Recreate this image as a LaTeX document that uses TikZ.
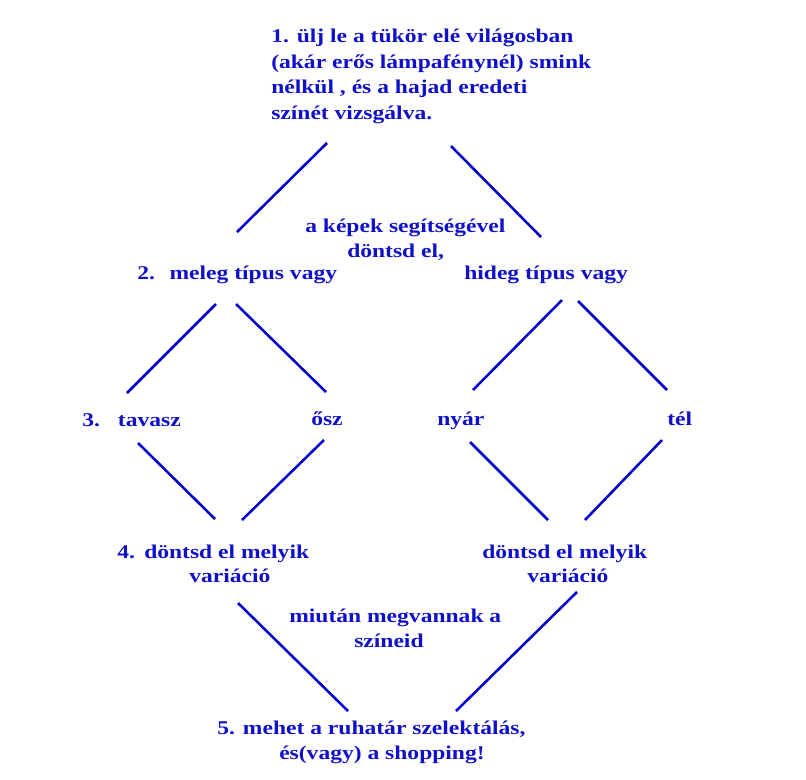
\documentclass[tikz,border=0pt]{standalone}
\usepackage{fontspec}
\setmainfont{Liberation Serif}[FakeStretch=1.21]
\definecolor{txtblue}{RGB}{16,16,200}
\definecolor{lnblue}{RGB}{0,0,200}
\begin{document}
\begin{tikzpicture}[x=0.75pt,y=-0.75pt,
  lbl/.style={anchor=base west,inner sep=0pt,text=txtblue,font=\fontsize{14.6pt}{19.3pt}\selectfont\bfseries},
  seg/.style={draw=lnblue,line width=1.9pt}]
\useasboundingbox (0,0) rectangle (806,779);
% block 1
\node[lbl] (t1a) at (271,42) {1. ülj le a tükör elé világosban};
\node[lbl] (t1b) at (271,68) {(akár erős lámpafénynél) smink};
\node[lbl] (t1c) at (271,93) {nélkül , és a hajad eredeti};
\node[lbl] (t1d) at (271,119) {színét vizsgálva.};
% middle note
\node[lbl] (n1a) at (305,232) {a képek segítségével};
\node[lbl] (n1b) at (347,257) {döntsd el,};
% level 2
\node[lbl] (t2a) at (137,279) {2.\hspace{11pt}meleg típus vagy};
\node[lbl] (t2b) at (464,279) {hideg típus vagy};
% level 3
\node[lbl] (t3a) at (82,426) {3.\hspace{13.5pt}tavasz};
\node[lbl] (t3b) at (311,425) {ősz};
\node[lbl] (t3c) at (437,425) {nyár};
\node[lbl] (t3d) at (667,425) {tél};
% level 4
\node[lbl] (t4a) at (117,558) {4.\hspace{7pt}döntsd el melyik};
\node[lbl] (t4b) at (189,582) {variáció};
\node[lbl] (t4c) at (482,558) {döntsd el melyik};
\node[lbl] (t4d) at (527,582) {variáció};
% note 2
\node[lbl] (n2a) at (289,622) {miután megvannak a};
\node[lbl] (n2b) at (354,647) {színeid};
% level 5
\node[lbl] (t5a) at (217,734) {5.\hspace{6pt}mehet a ruhatár szelektálás,};
\node[lbl] (t5b) at (279,759) {és(vagy) a shopping!};
% segment end points
\coordinate (a1) at (327,143); \coordinate (a2) at (237,232);
\coordinate (b1) at (451,146); \coordinate (b2) at (541,237);
\coordinate (c1) at (216,304); \coordinate (c2) at (127,393);
\coordinate (d1) at (236,304); \coordinate (d2) at (326,392);
\coordinate (e1) at (138,443); \coordinate (e2) at (215,519);
\coordinate (f1) at (324,440); \coordinate (f2) at (242,520);
\coordinate (g1) at (562,300); \coordinate (g2) at (473,390);
\coordinate (h1) at (578,301); \coordinate (h2) at (667,390);
\coordinate (i1) at (470,442); \coordinate (i2) at (548,520);
\coordinate (j1) at (662,440); \coordinate (j2) at (585,520);
\coordinate (k1) at (238,603); \coordinate (k2) at (348,711);
\coordinate (l1) at (577,592); \coordinate (l2) at (456,711);
\foreach \p in {a,b,c,d,e,f,g,h,i,j,k,l} \draw[seg] (\p1) -- (\p2);
\end{tikzpicture}
\end{document}
